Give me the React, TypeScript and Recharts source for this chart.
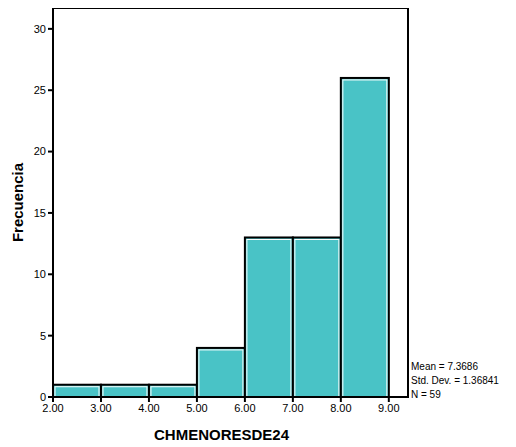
import React from 'react'
import { ComposedChart, Bar, XAxis, YAxis, ReferenceArea, Label } from 'recharts'

// bin midpoints and counts for CHMENORESDE24
const binMids = [2.5, 3.5, 4.5, 5.5, 6.5, 7.5, 8.5]
const counts = [1, 1, 1, 4, 13, 13, 26]
const xTicks = [2, 3, 4, 5, 6, 7, 8, 9]
const yTicks = [0, 5, 10, 15, 20, 25, 30]
const statLines = ['Mean = 7.3686', 'Std. Dev. = 1.36841', 'N = 59']

const data = binMids.map((mid, i) => ({ mid, count: counts[i] }))

const FONT = '"Liberation Sans", Arial, sans-serif'

const HistBar = (props: any) => {
  const { x, y, width, height } = props
  if (!height || height <= 0) return null
  return (
    <g>
      <rect x={x} y={y} width={width} height={height} fill="#49c3c6" stroke="#000" strokeWidth={2} />
      <rect x={x + 2} y={y + 2} width={Math.max(0, width - 4)} height={Math.max(0, height - 2)} fill="none" stroke="#fff" strokeWidth={1} />
    </g>
  )
}

const App = () => {
  return (
    <div style={{ position: 'relative', margin: '-8px 0 0 -8px', width: 516, height: 447, fontFamily: FONT }}>
      <ComposedChart
        width={516}
        height={447}
        data={data}
        margin={{ top: 8, right: 108, bottom: 5, left: 0 }}
        barCategoryGap={0}
      >
        <XAxis
          dataKey="mid"
          type="number"
          domain={[2, 9.4]}
          ticks={xTicks}
          tickFormatter={(v: number) => v.toFixed(2)}
          height={45}
          tickSize={5}
          axisLine={{ stroke: '#000', strokeWidth: 2 }}
          tickLine={{ stroke: '#000', strokeWidth: 2 }}
          tick={{ fill: '#000', fontSize: 11, fontFamily: FONT }}
        >
          <Label
            value="CHMENORESDE24"
            position="insideBottom"
            dx={-9}
            offset={2}
            style={{ fill: '#000', fontSize: 15, fontWeight: 'bold', fontFamily: FONT }}
          />
        </XAxis>
        <YAxis
          type="number"
          domain={[0, 31.7]}
          ticks={yTicks}
          width={53}
          tickSize={5}
          axisLine={{ stroke: '#000', strokeWidth: 2 }}
          tickLine={{ stroke: '#000', strokeWidth: 2 }}
          tick={{ fill: '#000', fontSize: 11, fontFamily: FONT }}
        >
          <Label
            value="Frecuencia"
            angle={-90}
            position="insideLeft"
            offset={18}
            style={{ fill: '#000', fontSize: 15, fontWeight: 'bold', fontFamily: FONT, textAnchor: 'middle' }}
          />
        </YAxis>
        <Bar dataKey="count" shape={HistBar} isAnimationActive={false} />
        <ReferenceArea x1={2} x2={9.4} y1={0} y2={31.7} fill="none" stroke="#000" strokeWidth={2} fillOpacity={0} ifOverflow="visible" />
      </ComposedChart>
      <div style={{ position: 'absolute', left: 411, top: 360, fontSize: 10, lineHeight: '14px', color: '#000' }}>
        {statLines.map((s) => (
          <div key={s}>{s}</div>
        ))}
      </div>
    </div>
  )
}

export default App
